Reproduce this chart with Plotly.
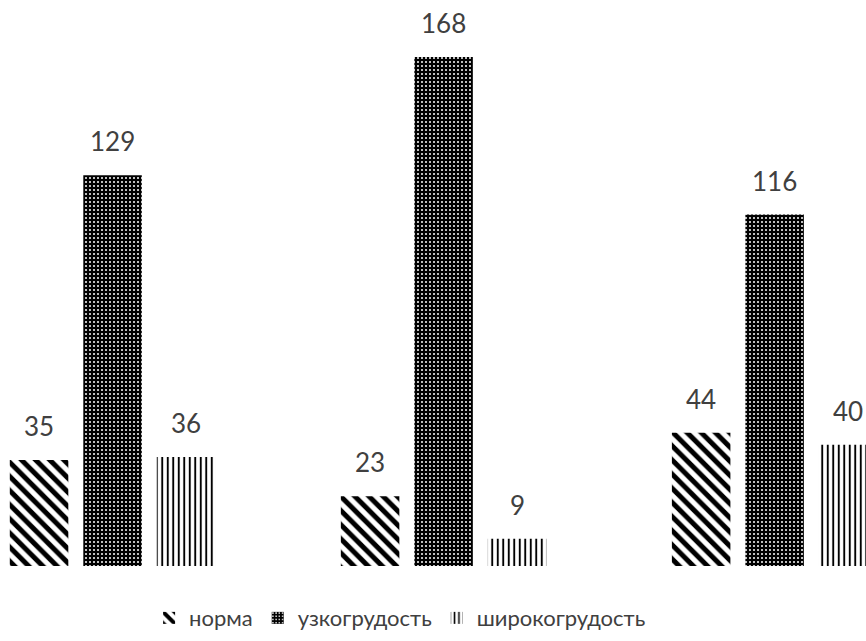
import plotly.graph_objects as go

# ---- data ----
groups = [0, 1, 2]
series_names = ["норма", "узкогрудость", "широкогрудость"]
norma = [35, 23, 44]
uzko = [129, 168, 116]
shiroko = [36, 9, 40]

# ---- style ----
FONT = "Lato, 'Open Sans', sans-serif"
LABEL_COLOR = "#404040"
BARGAP = 0.334
BARGROUPGAP = 0.204
PX_PER_UNIT = 3.03
PLOT_H = 566
X_RANGE = [-0.340, 2.276]

patterns = [
    dict(shape="\\", fgcolor="black", bgcolor="white", size=10, solidity=0.5, fgopacity=1),
    dict(shape=".", fgcolor="white", bgcolor="black", size=4, solidity=0.2, fgopacity=1),
    dict(shape="|", fgcolor="black", bgcolor="white", size=5.5, solidity=0.35, fgopacity=1),
]
values = [norma, uzko, shiroko]

fig = go.Figure()
for name, vals, pat in zip(series_names, values, patterns):
    fig.add_bar(
        x=groups, y=vals, name=name,
        marker=dict(color=pat["bgcolor"], line=dict(width=0), pattern=pat),
        hoverinfo="skip",
    )

# value labels, positioned through the axes
n = len(values)
slot = (1 - BARGAP) / n
for k, vals in enumerate(values):
    for g, v in zip(groups, vals):
        fig.add_annotation(
            x=g + (k - (n - 1) / 2) * slot, y=v, xref="x", yref="y",
            text=str(v), showarrow=False, yanchor="bottom", yshift=16,
            font=dict(family=FONT, size=26, color=LABEL_COLOR),
        )

fig.update_layout(
    width=866, height=641,
    margin=dict(l=0, r=0, t=0, b=641 - PLOT_H),
    paper_bgcolor="white", plot_bgcolor="white",
    barmode="group", bargap=BARGAP, bargroupgap=BARGROUPGAP,
    xaxis=dict(visible=False, range=X_RANGE),
    yaxis=dict(visible=False, range=[0, PLOT_H / PX_PER_UNIT]),
    showlegend=True,
    legend=dict(
        orientation="h", x=0.462, xanchor="center", y=-0.092, yanchor="middle",
        font=dict(family=FONT, size=22, color=LABEL_COLOR),
        traceorder="normal", bgcolor="rgba(0,0,0,0)",
    ),
)

fig.write_html("out.html")
